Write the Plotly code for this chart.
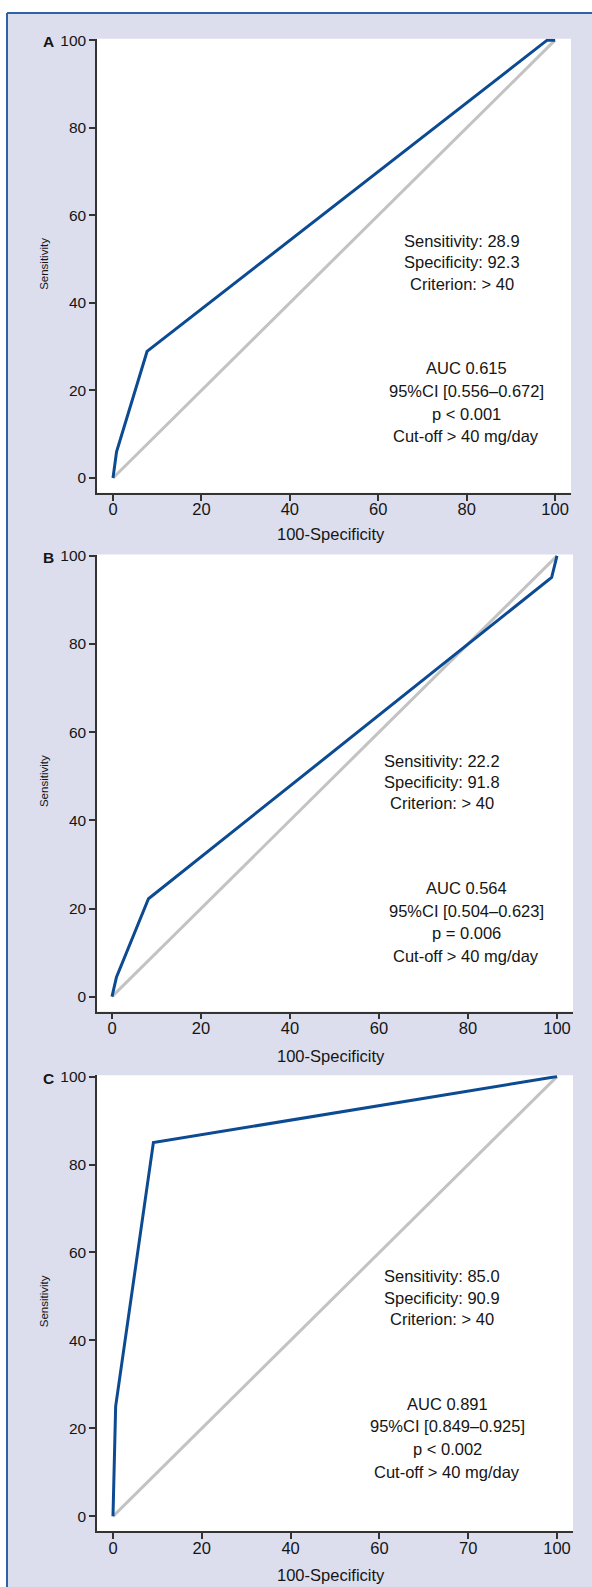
import plotly.graph_objects as go

W, H = 592, 1587

# ---- data ----
panel_labels = ["A", "B", "C"]
diag_x = [0, 100]
diag_y = [0, 100]
roc_a_x = [0, 0.8, 7.7, 98.2, 100]
roc_a_y = [0, 6.0, 28.9, 100, 100]
roc_b_x = [0, 1.0, 8.2, 98.8, 100]
roc_b_y = [0, 4.4, 22.2, 95.1, 100]
roc_c_x = [0, 0.6, 9.1, 99.3, 100]
roc_c_y = [0, 25.0, 85.0, 100, 100]
y_ticks = [0, 20, 40, 60, 80, 100]
x_ticks = [0, 20, 40, 60, 80, 100]
x_ticktext_ab = ["0", "20", "40", "60", "80", "100"]
x_ticktext_c = ["0", "20", "40", "60", "70", "100"]
stats_a = ["Sensitivity: 28.9", "Specificity: 92.3", "Criterion: > 40"]
stats_b = ["Sensitivity: 22.2", "Specificity: 91.8", "Criterion: > 40"]
stats_c = ["Sensitivity: 85.0", "Specificity: 90.9", "Criterion: > 40"]
auc_a = ["AUC 0.615", "95%CI [0.556–0.672]", "p < 0.001", "Cut-off > 40 mg/day"]
auc_b = ["AUC 0.564", "95%CI [0.504–0.623]", "p = 0.006", "Cut-off > 40 mg/day"]
auc_c = ["AUC 0.891", "95%CI [0.849–0.925]", "p < 0.002", "Cut-off > 40 mg/day"]

FONT = "Liberation Sans, Arial, sans-serif"
BLUE = "#0c4b92"
GRAY = "#c3c3c3"
LAV = "#dcdeee"
FRAME = "#2b62a8"
AX = "#333333"
TXT = "#151515"

def px(x):
    return x / W

def py(y):
    return 1 - y / H

# panel geometry in pixels
panels = [
    dict(l=97, r=571, t=32, b=488, xr=[-3.62, 103.6], yr=[-3.4, 100.3], title_y=529),
    dict(l=97, r=573, t=550, b=1009, xr=[-3.37, 103.6], yr=[-3.38, 100.3], title_y=1054),
    dict(l=97, r=573, t=1073, b=1531, xr=[-3.6, 103.6], yr=[-3.39, 100.3], title_y=1575),
]
rocs = [(roc_a_x, roc_a_y), (roc_b_x, roc_b_y), (roc_c_x, roc_c_y)]
xtt = [x_ticktext_ab, x_ticktext_ab, x_ticktext_c]

fig = go.Figure()
layout = {}
for i, (p, (rx, ry)) in enumerate(zip(panels, rocs)):
    n = "" if i == 0 else str(i + 1)
    xa, ya = "x" + n, "y" + n
    fig.add_trace(go.Scatter(x=diag_x, y=diag_y, mode="lines", xaxis=xa, yaxis=ya,
                             line=dict(color=GRAY, width=3), showlegend=False, hoverinfo="skip"))
    fig.add_trace(go.Scatter(x=rx, y=ry, mode="lines", xaxis=xa, yaxis=ya,
                             line=dict(color=BLUE, width=3), showlegend=False, hoverinfo="skip"))
    layout["xaxis" + n] = dict(domain=[px(p["l"]), px(p["r"])], anchor=ya, range=p["xr"],
                               tickvals=x_ticks, ticktext=xtt[i], ticks="outside", ticklen=6,
                               tickwidth=1.5, tickcolor=AX, showline=True, linecolor=AX, linewidth=1.5,
                               showgrid=False, zeroline=False, ticklabelstandoff=-5,
                               tickfont=dict(family=FONT, size=16.5, color=TXT))
    layout["yaxis" + n] = dict(domain=[py(p["b"]), py(p["t"])], anchor=xa, range=p["yr"],
                               tickvals=y_ticks, ticks="outside", ticklen=6,
                               tickwidth=1.5, tickcolor=AX, showline=True, linecolor=AX, linewidth=1.5,
                               showgrid=False, zeroline=False,
                               tickfont=dict(family=FONT, size=15.5, color=TXT))

fig.update_layout(**layout)

ann = []
def text(x, y, s, size=16.5, bold=False, angle=0):
    ann.append(dict(x=px(x), y=py(y), xref="paper", yref="paper", text=("<b>%s</b>" % s) if bold else s,
                    showarrow=False, xanchor="center", yanchor="middle", textangle=angle,
                    font=dict(family=FONT, size=size, color=TXT)))

offsets = [0, 522, 1040]
stat_x = [462, 442, 442]
auc_x = [466, 466, 447]
stats = [stats_a, stats_b, stats_c]
aucs = [auc_a, auc_b, auc_c]
for i in range(3):
    o = offsets[i]
    p = panels[i]
    for j, s in enumerate(stats[i]):
        text(stat_x[i], 235 + o + j * 21.5, s)
    for j, s in enumerate(aucs[i]):
        text(auc_x[i], 363 + o + j * 22.7, s)
    text(48.5, p["t"] + 3, panel_labels[i], size=15.5, bold=True)
    text(44, (p["t"] + p["b"]) / 2 - 2, "Sensitivity", size=11.5, angle=-90)
    text(331, p["title_y"], "100-Specificity", size=16.5)

shapes = [
    dict(type="rect", xref="paper", yref="paper", x0=px(7), x1=1, y0=0, y1=py(6),
         fillcolor=LAV, line=dict(width=0), layer="below"),
]
for p in panels:
    shapes.append(dict(type="rect", xref="paper", yref="paper", x0=px(p["l"]), x1=px(p["r"]),
                       y0=py(p["b"]), y1=py(p["t"]), fillcolor="white", line=dict(width=0),
                       layer="below"))
shapes += [
    dict(type="line", xref="paper", yref="paper", x0=px(7), x1=1, y0=py(6), y1=py(6),
         line=dict(color=FRAME, width=2)),
    dict(type="line", xref="paper", yref="paper", x0=px(7), x1=px(7), y0=0, y1=py(6),
         line=dict(color=FRAME, width=2)),
]

fig.update_layout(width=W, height=H, margin=dict(l=0, r=0, t=0, b=0),
                  paper_bgcolor="white", plot_bgcolor="rgba(0,0,0,0)",
                  annotations=ann, shapes=shapes, showlegend=False)

fig.write_html("out.html", post_script="document.body.style.margin='0';")
